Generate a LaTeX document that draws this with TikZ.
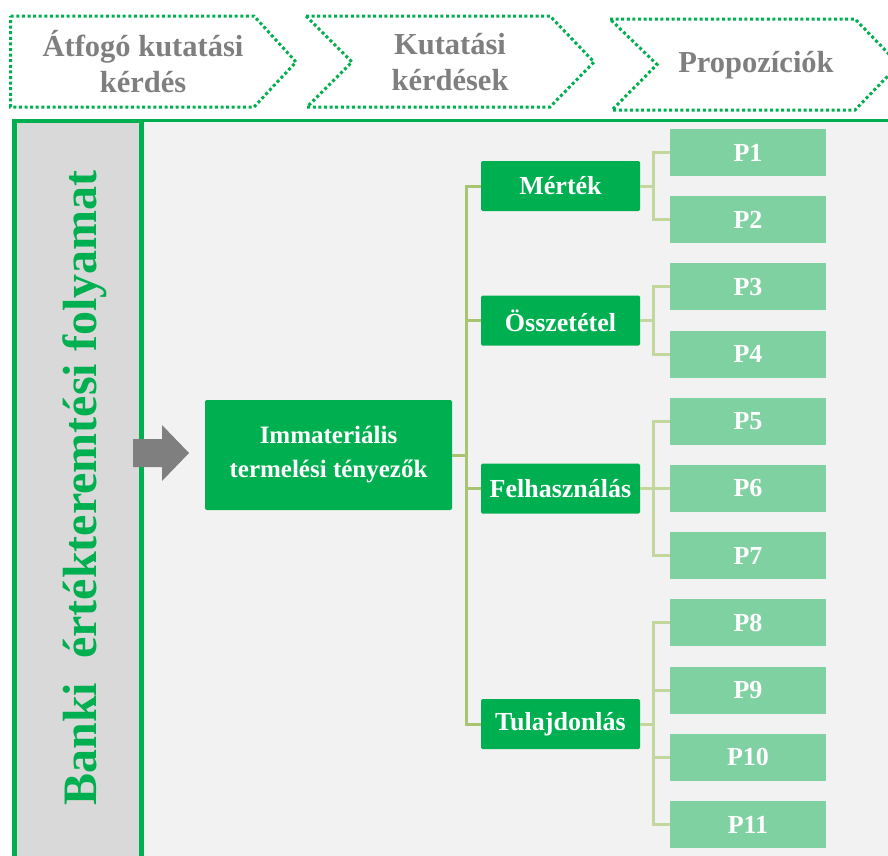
\documentclass[tikz,border=0pt]{standalone}
\usepackage{fontspec}
\setmainfont{Liberation Serif}
\definecolor{grn}{HTML}{00B050}
\definecolor{lgrn}{HTML}{80D1A2}
\definecolor{barfill}{HTML}{D9D9D9}
\definecolor{panelfill}{HTML}{F2F2F2}
\definecolor{txtgray}{HTML}{7F7F7F}
\definecolor{trunkcol}{HTML}{A9C46E}
\definecolor{branchcol}{HTML}{C3D69B}
\begin{document}
\begin{tikzpicture}[x=1pt,y=-1pt,
  chev/.style={draw=grn, line width=3pt, dash pattern=on 3pt off 2.6pt},
  hdrtext/.style={font=\bfseries\fontsize{30.5}{36}\selectfont, text=txtgray, align=center, inner sep=0pt},
  bartext/.style={font=\bfseries\fontsize{48}{50}\selectfont, text=grn, inner sep=0pt},
  mainbox/.style={fill=grn, text=white, font=\bfseries\fontsize{25}{36}\selectfont,
    minimum width=247pt, minimum height=110pt, inner sep=0pt, align=center, rounded corners=2pt},
  midbox/.style={fill=grn, text=white, font=\bfseries\fontsize{26}{30}\selectfont,
    minimum width=159pt, minimum height=50pt, inner sep=0pt, rounded corners=1.5pt},
  pbox/.style={fill=lgrn, text=white, font=\bfseries\fontsize{26}{30}\selectfont,
    minimum width=156pt, minimum height=47pt, inner sep=0pt},
  trunkline/.style={draw=trunkcol, line width=3pt},
  branchline/.style={draw=branchcol, line width=3pt},
  blockarrow/.style={fill=txtgray}
]
\useasboundingbox (0,0) rectangle (888,855);
\clip (0,0) rectangle (888,855);
\fill[white] (0,0) rectangle (888,855);

% header chevrons
\draw[chev] (10.7,16) -- (254,16) -- (296,62) -- (254,107) -- (10.7,107) -- cycle;
\draw[chev] (306,16) -- (550,16) -- (594,62) -- (550,107) -- (307,107) -- (352,62) -- cycle;
\draw[chev] (610,19) -- (855,19) -- (899,64.5) -- (855,110) -- (612,110) -- (657,64.5) -- cycle;
\node[hdrtext] (h1) at (143,62) {Átfogó kutatási\\kérdés};
\node[hdrtext] (h2) at (450,62) {Kutatási\\kérdések};
\node[hdrtext] (h3) at (756,65) {Propozíciók};

% main panel and side bar
\draw[draw=grn, line width=2.5pt, fill=panelfill] (14.7,120.7) rectangle (900,870);
\draw[draw=grn, line width=4.5pt, fill=barfill] (14.7,121) rectangle (141.5,870);
\node[bartext, rotate=90, anchor=base] (bar) at (96,488) {Banki\ \ értékteremtési folyamat};

% block arrow into the main box
\fill[blockarrow] (133,439) -- (162,439) -- (162,425) -- (189,453) -- (162,481) -- (162,467) -- (133,467) -- cycle;

% tree nodes
\node[mainbox] (imm) at (328.5,455) {\raisebox{-2pt}{Immateriális}\\termelési tényezők};
\node[midbox] (m1) at (560.5,186) {Mérték};
\node[midbox] (m2) at (560.5,320.5) {Összetétel};
\node[midbox] (m3) at (560.5,488.5) {Felhasználás};
\node[midbox] (m4) at (560.5,724) {Tulajdonlás};
\foreach \i in {1,...,11}
  \node[pbox] (p\i) at (748,{152.5+67.2*(\i-1)}) {P\i};

% connectors
\foreach \m in {m1,m2,m3,m4}
  \draw[trunkline] (imm.east) -- ++(14.5,0) |- (\m.west);
\foreach \p in {p1,p2}
  \draw[branchline] (m1.east) -- ++(13.5,0) |- (\p.west);
\foreach \p in {p3,p4}
  \draw[branchline] (m2.east) -- ++(13.5,0) |- (\p.west);
\foreach \p in {p5,p6,p7}
  \draw[branchline] (m3.east) -- ++(13.5,0) |- (\p.west);
\foreach \p in {p8,p9,p10,p11}
  \draw[branchline] (m4.east) -- ++(13.5,0) |- (\p.west);
\end{tikzpicture}
\end{document}
